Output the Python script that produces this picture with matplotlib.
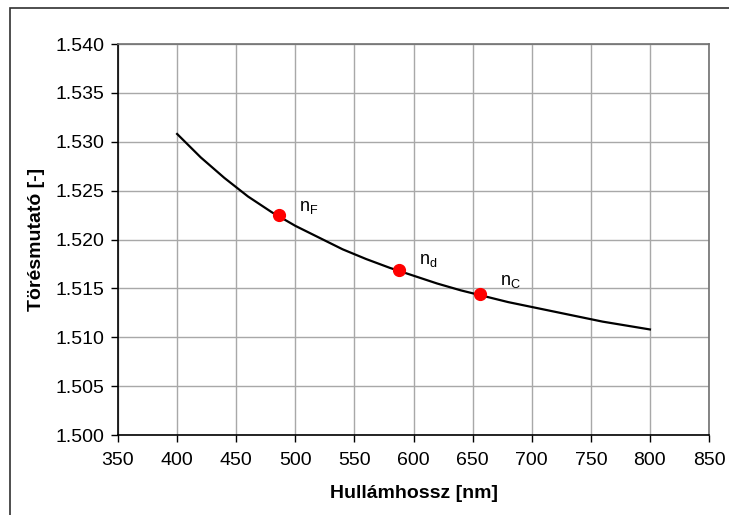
import matplotlib
matplotlib.use("Agg")
import matplotlib.pyplot as plt
from matplotlib.patches import Rectangle

plt.rcParams['font.family'] = ['Liberation Sans', 'DejaVu Sans']
plt.rcParams['mathtext.fontset'] = 'custom'
plt.rcParams['mathtext.rm'] = 'Liberation Sans'

# refractive index curve (BK7-like glass)
wavelength = [400, 410, 420, 440, 460, 480, 500, 520, 540, 560, 580, 600, 620, 640, 660, 680,
              700, 720, 740, 760, 780, 800]
n_index = [1.5308, 1.5296, 1.5284, 1.5263, 1.5244, 1.5228, 1.5214, 1.5202, 1.5190, 1.5180,
           1.5171, 1.5163, 1.5155, 1.5148, 1.5142, 1.5136, 1.5131, 1.5126, 1.5121, 1.5116,
           1.5112, 1.5108]

# Fraunhofer lines
line_wl = [486.1, 587.6, 656.3]
line_n = [1.5225, 1.5169, 1.5144]
line_labels = [r'n$_\mathrm{F}$', r'n$_\mathrm{d}$', r'n$_\mathrm{C}$']

xticks = [350, 400, 450, 500, 550, 600, 650, 700, 750, 800, 850]
yticks = [1.500, 1.505, 1.510, 1.515, 1.520, 1.525, 1.530, 1.535, 1.540]

fig = plt.figure(figsize=(7.29, 5.15), dpi=100)
ax = fig.add_axes([0.1619, 0.1553, 0.8107, 0.7592])

# outer frame of the chart
fig.patches.append(Rectangle((10 / 729, -0.02), 1.0, 1.02 - 8 / 515, transform=fig.transFigure,
                             fill=False, edgecolor='#303030', linewidth=1.2))

ax.plot(wavelength, n_index, color='black', linewidth=1.6, zorder=3)
ax.plot(line_wl, line_n, 'o', color='red', markersize=8.5, zorder=4)

offsets = [(14.4, 2.9), (14.4, 4.3), (14.4, 6.5)]
for x, y, lab, off in zip(line_wl, line_n, line_labels, offsets):
    ax.annotate(lab, (x, y), xytext=off, textcoords='offset points', fontsize=13,
                ha='left', va='baseline')

ax.set_xlim(350, 850)
ax.set_ylim(1.500, 1.540)
ax.set_xticks(xticks)
ax.set_yticks(yticks)
ax.set_yticklabels([f'{v:.3f}' for v in yticks])
ax.tick_params(labelsize=14, length=5, width=1, direction='out', color='black')
ax.tick_params(axis='x', pad=7)
ax.tick_params(axis='y', pad=5)
ax.grid(True, color='#a8a8a8', linewidth=1)
ax.set_axisbelow(True)

for side in ['left', 'bottom']:
    ax.spines[side].set_color('black')
    ax.spines[side].set_linewidth(1.2)
for side in ['top', 'right']:
    ax.spines[side].set_color('#707070')
    ax.spines[side].set_linewidth(1.2)

ax.set_xlabel('Hullámhossz [nm]', fontsize=14, fontweight='bold', va='center')
ax.set_ylabel('Törésmutató [-]', fontsize=14, fontweight='bold', va='center')
ax.xaxis.set_label_coords(0.5, (435 - 493) / 391)
ax.yaxis.set_label_coords((36 - 118) / 591, 0.5)

fig.savefig('out.png', dpi=100)
